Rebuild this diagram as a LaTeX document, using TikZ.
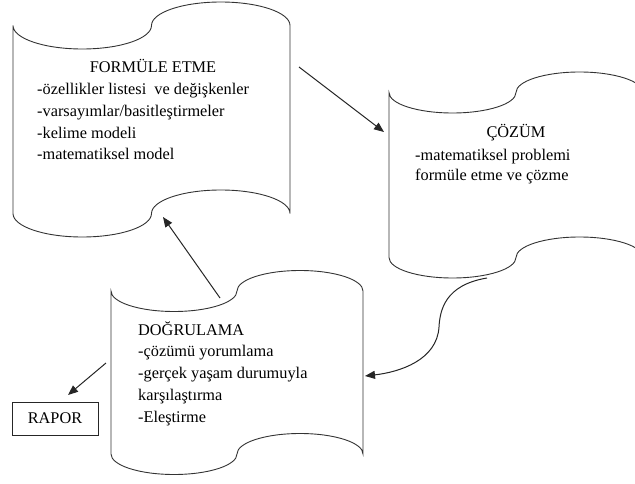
\documentclass[tikz,border=0pt]{standalone}
\usepackage{fontspec}
\setmainfont{Liberation Serif}
\usetikzlibrary{arrows.meta}

% Punched-tape outline: #1 left x, #2 width, #3 top corner y, #4 bottom corner y, #5 wave depth
\newcommand{\tapeoutline}[5]{%
  ({#1},{#3})
  arc[start angle=180, end angle=360, x radius={#2/4}, y radius={#5}]
  arc[start angle=180, end angle=0,   x radius={#2/4}, y radius={#5}]
  -- ({#1+#2},{#4})
  arc[start angle=0, end angle=180,  x radius={#2/4}, y radius={#5}]
  arc[start angle=0, end angle=-180, x radius={#2/4}, y radius={#5}]
  -- cycle}

\begin{document}
\begin{tikzpicture}[x=1pt, y=1pt,
  tape/.style={draw=black!80, line width=0.9pt, fill=white},
  link/.style={draw=black!85, line width=1pt, -{Triangle[length=10pt, width=8pt]}},
  txt/.style={inner sep=0pt, text=black, font=\fontsize{16.3}{20}\selectfont},
  line/.style={txt, anchor=base west},
  box/.style={draw=black!85, line width=0.9pt, minimum width=86pt, minimum height=33pt, inner sep=0pt}]
\useasboundingbox (0,0) rectangle (635,483);
\clip (0,0) rectangle (635,483);

% the three stages
\draw[tape] \tapeoutline{13}{277}{457.5}{269.5}{23.5};
\draw[tape] \tapeoutline{389}{254}{390.5}{225.5}{20.5};
\draw[tape] \tapeoutline{111}{252}{192}{29}{20.5};

% formulation stage
\node[txt, anchor=base] (formTitle) at (153,410) {FORMÜLE ETME};
\foreach \t [count=\i] in {{-özellikler listesi\ \ ve değişkenler},
                          {-varsayımlar/basitleştirmeler},
                          {-kelime modeli},
                          {-matematiksel model}}
  \node[line] (form\i) at (37,{410-21.7*\i}) {\t};

% solution stage
\node[txt, anchor=base] (solTitle) at (516,345) {ÇÖZÜM};
\node[line] (sol1) at (415,323) {-matematiksel problemi};
\node[line] (sol2) at (415,302) {formüle etme ve çözme};

% verification stage
\foreach \t [count=\i] in {{DOĞRULAMA},
                          {-çözümü yorumlama},
                          {-gerçek yaşam durumuyla},
                          {karşılaştırma},
                          {-Eleştirme}}
  \node[line] (ver\i) at (138,{169.8-21.8*\i}) {\t};

\node[box, txt] (report) at (55,64.5) {RAPOR};

% connector end points
\coordinate (formOut) at (299,416);
\coordinate (solIn)   at (384,351);
\coordinate (verUp)   at (220,185);
\coordinate (formIn)  at (163,266);
\coordinate (solOut)  at (487,205);
\coordinate (bend)    at (439,156);
\coordinate (verIn)   at (365,107);
\coordinate (verOut)  at (106,120);
\coordinate (repIn)   at (68,88);

% connectors
\draw[link] (formOut) -- (solIn);
\draw[link] (verUp) -- (formIn);
\draw[link] (solOut) .. controls (445,198) and (440,173) .. (bend)
                     .. controls (437,123) and (400,111) .. (verIn);
\draw[link] (verOut) -- (repIn);
\end{tikzpicture}
\end{document}
